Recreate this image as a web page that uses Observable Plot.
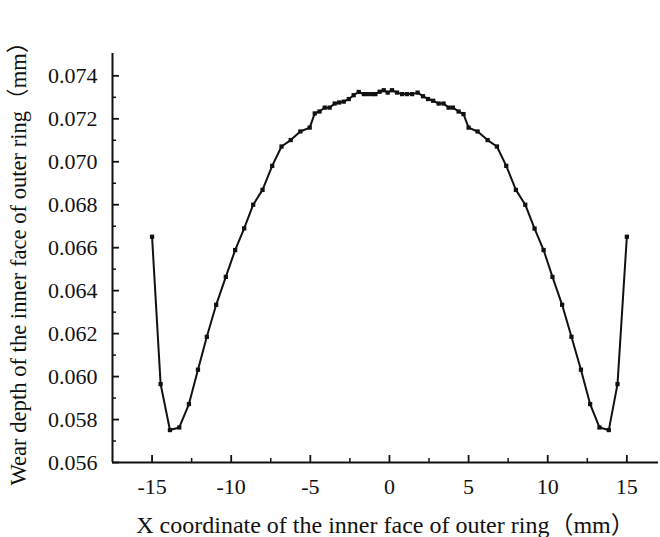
<!DOCTYPE html>
<html>
<head>
<meta charset="utf-8">
<script src="https://cdn.jsdelivr.net/npm/d3@7"></script>
<script src="https://cdn.jsdelivr.net/npm/@observablehq/plot@0.6"></script>
<style>
  html, body { margin: 0; padding: 0; background: #fff; }
</style>
</head>
<body>
<div id="chart"></div>
<script>
// X coordinate (mm)
const xCoord = [-15, -14.46, -13.87, -13.28, -12.67, -12.1, -11.54, -10.95, -10.34, -9.75, -9.18, -8.61, -8.02, -7.41, -6.82, -6.24, -5.63, -5.04,
  -4.72, -4.42, -4.09, -3.78, -3.46, -3.18, -2.89, -2.57, -2.26, -1.94, -1.62, -1.37, -1.1, -0.89, -0.62, -0.36, -0.11,
  0.16, 0.48, 0.8, 1.11, 1.43, 1.78, 2.12, 2.44, 2.76, 3.11, 3.42, 3.74, 4.01, 4.37, 4.68,
  5.0, 5.57, 6.2, 6.79, 7.38, 7.99, 8.58, 9.17, 9.74, 10.3, 10.91, 11.5, 12.1, 12.68, 13.27, 13.86, 14.41, 15.0];
// Wear depth (mm)
const wearDepth = [0.06651, 0.05965, 0.05751, 0.05763, 0.05872, 0.06032, 0.06185, 0.06334, 0.06464, 0.06589, 0.0669, 0.068, 0.06869, 0.06981, 0.07071, 0.07101, 0.07141, 0.07159,
  0.07225, 0.07234, 0.07252, 0.07252, 0.07271, 0.07276, 0.0728, 0.07292, 0.0731, 0.07325, 0.07315, 0.07315, 0.07315, 0.07315, 0.07326, 0.07333, 0.07322,
  0.07333, 0.07322, 0.07315, 0.07315, 0.07315, 0.07322, 0.07305, 0.07292, 0.07284, 0.07271, 0.07271, 0.07252, 0.07252, 0.07234, 0.07222,
  0.07159, 0.07141, 0.07101, 0.07071, 0.06981, 0.06869, 0.068, 0.06689, 0.06589, 0.06464, 0.06334, 0.06185, 0.06032, 0.05872, 0.05763, 0.05751, 0.05965, 0.06651];

const xDomain = [-17.5, 17.0];
const yDomain = [0.056, 0.07504];
const xMajorTicks = [-15, -10, -5, 0, 5, 10, 15];
const xMinorTicks = [-12.5, -7.5, -2.5, 2.5, 7.5, 12.5];
const yMajorTicks = [0.056, 0.058, 0.060, 0.062, 0.064, 0.066, 0.068, 0.070, 0.072, 0.074];
const yMinorTicks = [0.057, 0.059, 0.061, 0.063, 0.065, 0.067, 0.069, 0.071, 0.073];
const xTitle = "X coordinate of the inner face of outer ring（mm）";
const yTitle = "Wear depth of the inner face of outer ring（mm）";

const data = xCoord.map((x, i) => ({x, y: wearDepth[i]}));

const chart = Plot.plot({
  width: 660,
  height: 537,
  marginLeft: 112,
  marginRight: 2,
  marginTop: 53,
  marginBottom: 75,
  style: {fontFamily: "'Liberation Serif', 'Noto Sans CJK SC', serif", fontSize: "21px", color: "#111", background: "#fff"},
  x: {domain: xDomain},
  y: {domain: yDomain},
  marks: [
    // inward ticks
    Plot.axisX(xMajorTicks, {tickSize: -7, fill: "none", strokeWidth: 1.8, label: null}),
    Plot.axisX(xMinorTicks, {tickSize: -4, fill: "none", strokeWidth: 1.5, label: null}),
    Plot.axisY(yMajorTicks, {tickSize: -7, fill: "none", strokeWidth: 1.8, label: null}),
    Plot.axisY(yMinorTicks, {tickSize: -4, fill: "none", strokeWidth: 1.5, label: null}),
    // tick labels
    Plot.axisX(xMajorTicks, {tickSize: 0, tickPadding: 16, tickFormat: d => String(d), fontSize: 22, label: null}),
    Plot.axisY(yMajorTicks, {tickSize: 0, tickPadding: 15, tickFormat: d3.format(".3f"), fontSize: 22, label: null}),
    // axis titles
    Plot.axisX([], {tickSize: 0, fontSize: 24, label: xTitle, labelAnchor: "center", labelOffset: 70, labelArrow: "none"}),
    Plot.axisY([], {tickSize: 0, fontSize: 22.6, label: yTitle, labelAnchor: "center", labelOffset: 103, labelArrow: "none"}),
    Plot.ruleY([yDomain[0]], {strokeWidth: 2}),
    Plot.ruleX([xDomain[0]], {strokeWidth: 2}),
    Plot.line(data, {x: "x", y: "y", stroke: "#111", strokeWidth: 2}),
    Plot.dot(data, {x: "x", y: "y", symbol: "square", r: 2.4, fill: "#111", stroke: "none"})
  ]
});
document.getElementById("chart").appendChild(chart);
</script>
</body>
</html>
